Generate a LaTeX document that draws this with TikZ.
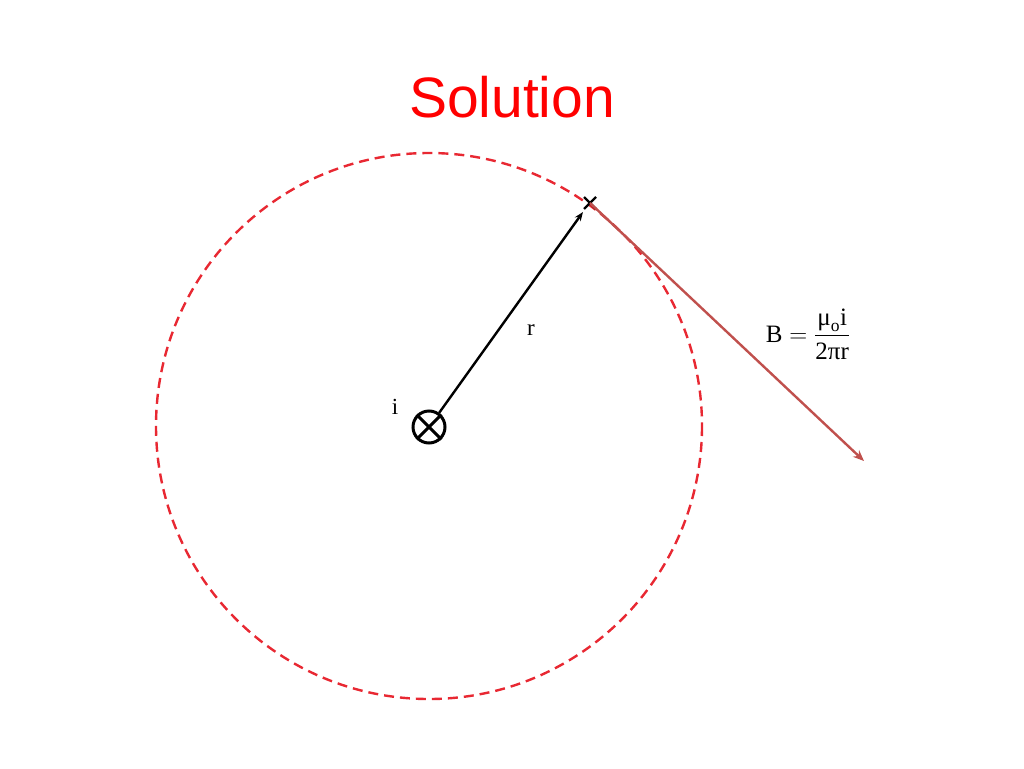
\documentclass[tikz,border=0pt]{standalone}
\usepackage{amsmath}
\usepackage{fontspec}
\setmainfont{Liberation Serif}
\newfontfamily\arialfont{Liberation Sans}
\usetikzlibrary{arrows.meta,calc}
\definecolor{dashred}{RGB}{232,40,50}
\definecolor{vecred}{RGB}{192,80,77}
\definecolor{titlered}{RGB}{255,0,0}
\tikzset{
  loop/.style={draw=dashred, line width=2.4pt, dash pattern=on 10pt off 6pt},
  radius arrow/.style={draw=black, line width=2.4pt, -{Stealth[length=9pt,width=7pt]}},
  field arrow/.style={draw=vecred, line width=2.4pt, -{Stealth[length=11pt,width=9pt]}},
  wire/.style={circle, draw=black, line width=3pt, minimum size=32pt, inner sep=0pt},
  lbl/.style={inner sep=0pt, font=\fontsize{23}{27}\selectfont},
}
\begin{document}
\begin{tikzpicture}[x=1pt,y=-1pt]
\useasboundingbox (0,0) rectangle (1024,768);
% title
\node[inner sep=0pt, text=titlered, font=\arialfont\fontsize{57}{60}\selectfont] (title) at (512,97) {Solution};
% dashed loop
\coordinate (c) at (429,426);
\draw[loop] (c) circle (273);
% wire
\node[wire] (w) at (429,427) {};
\draw[line width=3pt] (w.north west) -- (w.south east);
\draw[line width=3pt] (w.north east) -- (w.south west);
\node[lbl, anchor=base] (i) at (395,414) {i};
% point P
\coordinate (p) at (590,203);
\draw[line width=2.2pt] ($(p)+(-6,-6)$) -- ($(p)+(6,6)$);
\draw[line width=2.2pt] ($(p)+(-6,6)$) -- ($(p)+(6,-6)$);
\coordinate (tip) at (583,212);
\draw[radius arrow] (w) -- (tip);
\node[lbl, anchor=base] (r) at (531,335) {r};
% field vector
\coordinate (bend) at (864,461);
\draw[field arrow] (p) -- (bend);
\node[inner sep=0pt, font=\fontsize{25}{30}\selectfont] (B) at (808,334)
  {$\mathrm{B}=\dfrac{\text{μ}_{\text{o}}\text{i}}{\text{2πr}}$};
\end{tikzpicture}
\end{document}
